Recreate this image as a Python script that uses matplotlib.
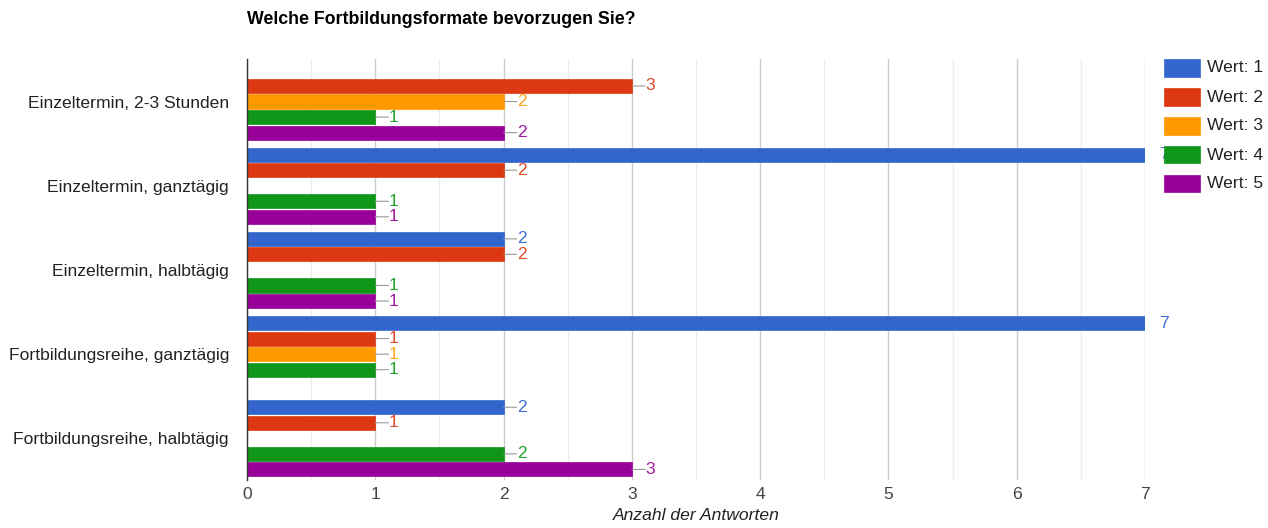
import matplotlib
matplotlib.use("Agg")
import matplotlib.pyplot as plt
from matplotlib.patches import Rectangle
import numpy as np

plt.rcParams['font.family'] = ['Liberation Sans', 'DejaVu Sans']

title = "Welche Fortbildungsformate bevorzugen Sie?"
categories = ["Einzeltermin, 2-3 Stunden", "Einzeltermin, ganztägig", "Einzeltermin, halbtägig",
              "Fortbildungsreihe, ganztägig", "Fortbildungsreihe, halbtägig"]
series_names = ["Wert: 1", "Wert: 2", "Wert: 3", "Wert: 4", "Wert: 5"]
wert1 = [0, 7, 2, 7, 2]
wert2 = [3, 2, 2, 1, 1]
wert3 = [2, 0, 0, 1, 0]
wert4 = [1, 1, 1, 1, 2]
wert5 = [2, 1, 1, 0, 3]
series = [wert1, wert2, wert3, wert4, wert5]
colors = ["#3366cc", "#dc3912", "#ff9900", "#109618", "#990099"]
label_colors = ["#3f6fd0", "#e04a26", "#ffa31a", "#22a22a", "#a21aa2"]
xticks = [0, 1, 2, 3, 4, 5, 6, 7]
xlabel = "Anzahl der Antworten"

FS = 12.6
W, H = 1268, 528
fig = plt.figure(figsize=(W / 100, H / 100), dpi=100)
ax = fig.add_axes([247 / W, 1 - 480 / H, (1145 - 247) / W, (480 - 59) / H])

pitch = 15.6 / 84.5
bh = 14.2 / 84.5
y = np.arange(len(categories))
for i, (vals, c, lc) in enumerate(zip(series, colors, label_colors)):
    ys = y + (i - 2) * pitch
    ax.barh(ys, vals, height=bh, color=c, edgecolor=c, linewidth=0.5, zorder=3)
    for yy, v in zip(ys, vals):
        if v == 0:
            continue
        if v >= 7:
            ax.annotate(str(v), (v, yy), xytext=(10, 0), textcoords="offset points",
                        ha="left", va="center", color=lc, fontsize=FS, zorder=2)
        else:
            ax.annotate(str(v), (v, yy), xytext=(9.5, 0), textcoords="offset points",
                        ha="left", va="center", color=lc, fontsize=FS, zorder=5,
                        annotation_clip=False)
            ax.annotate("", (v, yy), xytext=(9.5, 0), textcoords="offset points",
                        arrowprops=dict(arrowstyle="-", color="#999999", lw=0.8,
                                        shrinkA=0, shrinkB=0), zorder=4)

ax.set_ylim(len(categories) - 0.5 - 0.005, -0.5 - 0.005)
ax.set_xlim(0, 7)
ax.set_yticks(y)
ax.set_yticklabels(categories, fontsize=FS, color="#222222")
ax.set_xticks(xticks)
ax.set_xticklabels([str(t) for t in xticks], fontsize=FS, color="#444444")
ax.set_xticks(np.arange(0.5, 7, 1.0), minor=True)
ax.tick_params(axis="both", which="both", length=0, pad=5)
ax.tick_params(axis="y", pad=13)
ax.grid(axis="x", which="major", color="#cccccc", linewidth=1, zorder=0)
ax.grid(axis="x", which="minor", color="#ebebeb", linewidth=1, zorder=0)
for s in ["top", "right", "bottom"]:
    ax.spines[s].set_visible(False)
ax.spines["left"].set_color("#333333")
ax.spines["left"].set_linewidth(1)
ax.spines["left"].set_zorder(4)
ax.set_xlabel(xlabel, fontsize=FS, style="italic", color="#222222", labelpad=4)

fig.text(247 / W, 1 - 19 / H, title, fontsize=12.8, fontweight="bold", color="#000000",
         ha="left", va="center")

# legend
for k, (name, c) in enumerate(zip(series_names, colors)):
    yc = 68 + k * 29
    fig.add_artist(Rectangle((1164 / W, 1 - (yc + 8.5) / H), 36 / W, 17 / H,
                             transform=fig.transFigure, facecolor=c, edgecolor=c,
                             linewidth=0.5, zorder=10))
    fig.text(1207 / W, 1 - yc / H, name, fontsize=FS, color="#222222",
             ha="left", va="center", zorder=10)

fig.savefig("out.png", dpi=100)
